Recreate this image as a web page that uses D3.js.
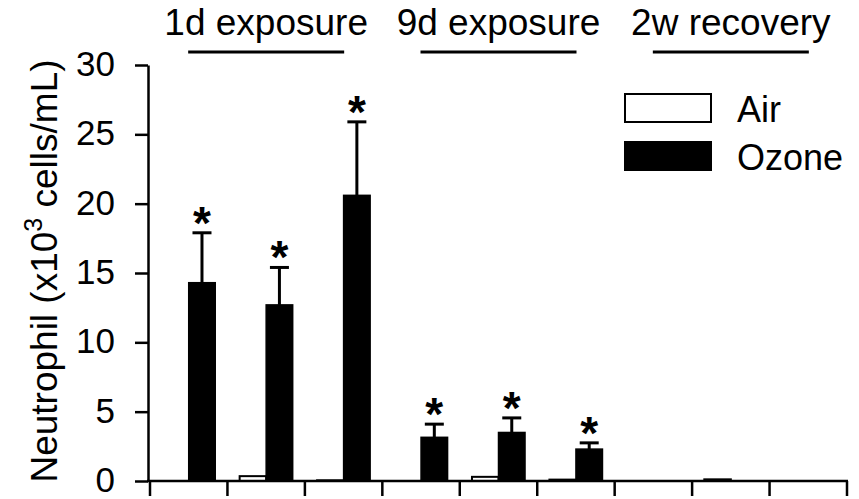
<!DOCTYPE html>
<html>
<head>
<meta charset="utf-8">
<script src="https://cdn.jsdelivr.net/npm/d3@7"></script>
<style>
  body { margin: 0; background: #fff; }
  svg { display: block; font-family: "Liberation Sans", Arial, sans-serif; }
</style>
</head>
<body>
<svg id="chart"></svg>
<script>
// Neutrophil counts, air vs ozone, three exposure periods (3 strains each)

const categories = ["1d-A", "1d-B", "1d-C", "9d-A", "9d-B", "9d-C", "2w-A", "2w-B", "2w-C"];
const periods = ["1d exposure", "9d exposure", "2w recovery"];
const series = ["Air", "Ozone"];
const airValues = [0, 0.35, 0.05, 0, 0.3, 0.1, 0, 0.12, 0];
const ozoneValues = [14.3, 12.7, 20.6, 3.15, 3.5, 2.3, 0, 0, 0];
const ozoneErr = [3.6, 2.7, 5.3, 0.95, 1.05, 0.45, 0, 0, 0];
const significant = [true, true, true, true, true, true, false, false, false];
const yTicks = [0, 5, 10, 15, 20, 25, 30];

const width = 859, height = 499;
const fontSize = 35;
const bigFont = 37;

const svg = d3.select("#chart")
    .attr("width", width)
    .attr("height", height);

// Scales
const x = d3.scaleBand()
    .domain(categories)
    .range([150, 847]);

const xSub = d3.scaleBand()
    .domain(series)
    .range([0, x.step()])
    .paddingOuter(0.46);

const y = d3.scaleLinear()
    .domain([0, 30])
    .range([481, 65]);

// Bars
const rows = categories.map((c, i) => ({
  cat: c, air: airValues[i], ozone: ozoneValues[i], err: ozoneErr[i], sig: significant[i]
}));

svg.append("g")
  .selectAll("rect")
  .data(rows.filter(d => d.air > 0))
  .join("rect")
    .attr("x", d => x(d.cat) + xSub("Air"))
    .attr("y", d => y(d.air))
    .attr("width", xSub.bandwidth())
    .attr("height", d => y(0) - y(d.air))
    .attr("fill", "#fff")
    .attr("stroke", "#000")
    .attr("stroke-width", 2);

svg.append("g")
  .selectAll("rect")
  .data(rows.filter(d => d.ozone > 0))
  .join("rect")
    .attr("x", d => x(d.cat) + xSub("Ozone"))
    .attr("y", d => y(d.ozone))
    .attr("width", xSub.bandwidth())
    .attr("height", d => y(0) - y(d.ozone))
    .attr("fill", "#000")
    .attr("stroke", "#000")
    .attr("stroke-width", 1.5);

// Error bars (upper half only)
const errG = svg.append("g")
    .attr("stroke", "#000")
    .attr("stroke-width", 3);

const withErr = rows.filter(d => d.err > 0);
const cx = d => x(d.cat) + xSub("Ozone") + xSub.bandwidth() / 2;

errG.selectAll(".stem")
  .data(withErr)
  .join("line")
    .attr("class", "stem")
    .attr("x1", cx).attr("x2", cx)
    .attr("y1", d => y(d.ozone))
    .attr("y2", d => y(d.ozone + d.err));

errG.selectAll(".cap")
  .data(withErr)
  .join("line")
    .attr("class", "cap")
    .attr("x1", d => cx(d) - 9.5).attr("x2", d => cx(d) + 9.5)
    .attr("y1", d => y(d.ozone + d.err))
    .attr("y2", d => y(d.ozone + d.err));

// Significance stars
svg.append("g")
  .selectAll("text")
  .data(rows.filter(d => d.sig))
  .join("text")
    .attr("x", cx)
    .attr("y", d => y(d.ozone + d.err) + 6)
    .attr("text-anchor", "middle")
    .attr("font-size", 46)
    .attr("font-weight", "bold")
    .text("*");

// Y axis
const yAxis = svg.append("g")
    .attr("transform", "translate(148,0)")
    .call(d3.axisLeft(y).tickValues(yTicks).tickSize(13).tickSizeOuter(0));

yAxis.select(".domain").attr("stroke-width", 2.5);
yAxis.selectAll(".tick line").attr("stroke-width", 2.5);
yAxis.selectAll(".tick text")
    .attr("x", -33)
    .attr("dy", "0.3em")
    .attr("font-size", fontSize)
    .attr("font-family", "Liberation Sans, Arial, sans-serif")
    .attr("fill", "#000");

// X axis: baseline with ticks at the group boundaries
const edges = categories.map(c => x(c)).concat([x(categories[categories.length - 1]) + x.step()]);

svg.append("line")
    .attr("x1", 147).attr("x2", edges[edges.length - 1] + 1)
    .attr("y1", y(0)).attr("y2", y(0))
    .attr("stroke", "#000")
    .attr("stroke-width", 2.5);

svg.append("g")
  .selectAll("line")
  .data(edges)
  .join("line")
    .attr("x1", d => d).attr("x2", d => d)
    .attr("y1", y(0)).attr("y2", y(0) + 15)
    .attr("stroke", "#000")
    .attr("stroke-width", 2.5);

// Period labels with underline
const periodCenter = (i) => (x(categories[i * 3]) + x(categories[i * 3 + 2]) + x.step()) / 2;

const per = svg.append("g")
  .selectAll("g")
  .data(periods)
  .join("g")
    .attr("transform", (d, i) => `translate(${periodCenter(i)},0)`);

per.append("text")
    .attr("y", 35)
    .attr("text-anchor", "middle")
    .attr("font-size", bigFont)
    .text(d => d);

per.append("line")
    .attr("x1", -78).attr("x2", 78)
    .attr("y1", 52).attr("y2", 52)
    .attr("stroke", "#000")
    .attr("stroke-width", 3);

// Y axis title
const yTitle = svg.append("text")
    .attr("transform", "translate(57,271) rotate(-90)")
    .attr("text-anchor", "middle")
    .attr("font-size", bigFont);
yTitle.append("tspan").text("Neutrophil (x10");
yTitle.append("tspan").attr("dy", -15).attr("font-size", 25).text("3");
yTitle.append("tspan").attr("dy", 15).text(" cells/mL)");

// Legend
const legend = svg.append("g")
  .selectAll("g")
  .data(series)
  .join("g")
    .attr("transform", (d, i) => `translate(625,${94 + i * 48})`);

legend.append("rect")
    .attr("width", 86)
    .attr("height", 28)
    .attr("fill", d => d === "Air" ? "#fff" : "#000")
    .attr("stroke", "#000")
    .attr("stroke-width", 2);

legend.append("text")
    .attr("x", 112)
    .attr("y", 28)
    .attr("font-size", fontSize + 1)
    .text(d => d);
</script>
</body>
</html>
